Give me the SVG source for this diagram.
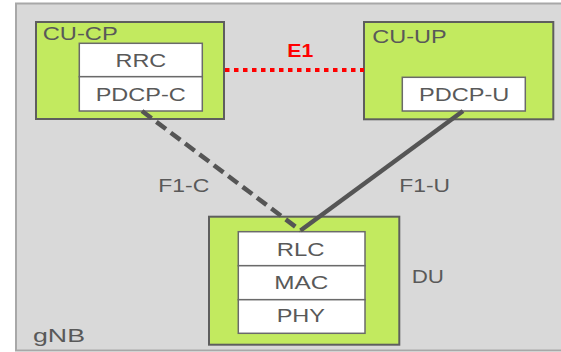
<svg xmlns="http://www.w3.org/2000/svg" width="561" height="352" viewBox="0 0 561 352">
<style>
text{font-family:"Liberation Sans",Arial,sans-serif;font-size:19px;fill:#595959}
.node{fill:#c2ea5f;stroke:#5e5e5e;stroke-width:2}
.layer{fill:#ffffff;stroke:#6a6a6a;stroke-width:1.5}
</style>
<rect width="561" height="352" fill="#ffffff"/>
<g id="gNB">
<rect x="16" y="3.5" width="560" height="347" fill="#d9d9d9" stroke="#a8a8a8" stroke-width="2"/>
<text x="33" y="341.7" textLength="52" lengthAdjust="spacingAndGlyphs">gNB</text>
</g>
<g id="CU-CP">
<rect class="node" x="36" y="22" width="188" height="97"/>
<text x="42.7" y="40" textLength="75" lengthAdjust="spacingAndGlyphs">CU-CP</text>
<rect class="layer" x="79.3" y="43.3" width="123" height="33.4"/>
<rect class="layer" x="79.3" y="76.7" width="123" height="34.3"/>
<text x="115.5" y="66.7" textLength="50.7" lengthAdjust="spacingAndGlyphs">RRC</text>
<text x="95.7" y="100.7" textLength="90" lengthAdjust="spacingAndGlyphs">PDCP-C</text>
</g>
<g id="CU-UP">
<rect class="node" x="364" y="22" width="189.3" height="97.3"/>
<text x="372.3" y="42.7" textLength="74.4" lengthAdjust="spacingAndGlyphs">CU-UP</text>
<rect class="layer" x="402.3" y="77.3" width="123" height="33.7"/>
<text x="419" y="100.7" textLength="90.3" lengthAdjust="spacingAndGlyphs">PDCP-U</text>
</g>
<g id="DU">
<rect class="node" x="209" y="216.7" width="190.3" height="128"/>
<rect class="layer" x="238.3" y="231.7" width="126.7" height="34"/>
<rect class="layer" x="238.3" y="265.7" width="126.7" height="34"/>
<rect class="layer" x="238.3" y="299.7" width="126.7" height="33.6"/>
<text x="276.7" y="255.7" textLength="47.7" lengthAdjust="spacingAndGlyphs">RLC</text>
<text x="274.3" y="289.3" textLength="54" lengthAdjust="spacingAndGlyphs">MAC</text>
<text x="276.7" y="322.3" textLength="48.3" lengthAdjust="spacingAndGlyphs">PHY</text>
<text x="411.7" y="282.7" textLength="32.3" lengthAdjust="spacingAndGlyphs">DU</text>
</g>
<g id="connectors">
<line x1="225" y1="70" x2="364" y2="70" stroke="#ff0000" stroke-width="4" stroke-dasharray="4.5 4.5"/>
<line x1="142" y1="111" x2="300.5" y2="230.5" stroke="#555555" stroke-width="4.5" stroke-dasharray="12 6"/>
<line x1="463" y1="111" x2="300.5" y2="230.5" stroke="#555555" stroke-width="4.5"/>
<text x="287.3" y="57.3" textLength="26" lengthAdjust="spacingAndGlyphs" style="fill:#ff0000;font-weight:bold">E1</text>
<text x="158.3" y="191.7" textLength="51" lengthAdjust="spacingAndGlyphs">F1-C</text>
<text x="399.3" y="191.7" textLength="50.7" lengthAdjust="spacingAndGlyphs">F1-U</text>
</g>
</svg>
